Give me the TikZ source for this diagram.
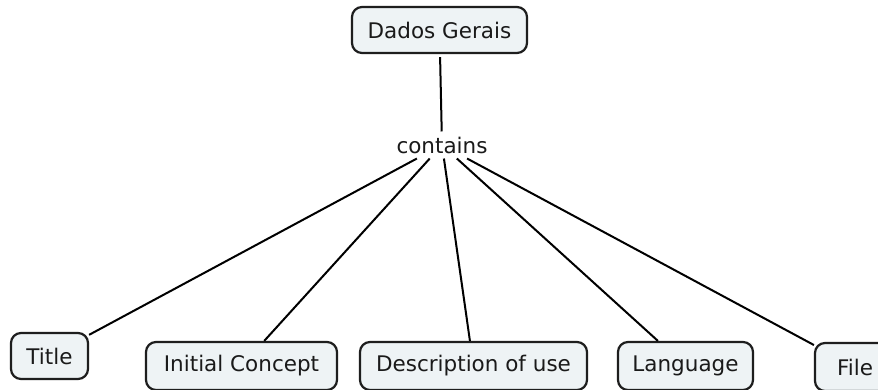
\documentclass[tikz,border=0pt]{standalone}
\usepackage{fontspec}
\setmainfont{DejaVu Sans}
\definecolor{boxfill}{HTML}{EEF3F5}
\definecolor{boxline}{HTML}{1E1E1E}
\definecolor{textcol}{HTML}{1A1A1A}
\tikzset{
  concept/.style={draw=boxline, line width=2.2pt, fill=boxfill, rounded corners=10pt,
    minimum height=46pt, inner sep=0pt, text=textcol, font=\fontsize{21.5}{25}\selectfont},
  lowconcept/.style={concept, minimum height=48pt},
  linkword/.style={inner xsep=2pt, inner ysep=5pt, text=textcol, font=\fontsize{21.5}{25}\selectfont},
  link/.style={line width=2pt, black}
}
\begin{document}
\begin{tikzpicture}[x=1pt,y=-1pt]
\useasboundingbox (0,0) rectangle (878,389);
\fill[white] (0,0) rectangle (878,389);
\node[concept, minimum width=175pt] (dados) at (439.5,30) {Dados Gerais};
\node[linkword] (contains) at (442,145) {contains};
\node[concept, minimum width=77pt] (title) at (49.5,356) {Title};
\node[lowconcept, minimum width=191pt] (initial) at (241.5,366) {Initial Concept};
\node[lowconcept, minimum width=227pt] (desc) at (473.5,366) {Description of use};
\node[lowconcept, minimum width=135pt] (lang) at (685.5,366) {Language};
\node[lowconcept, minimum width=80pt] (file) at (855,367) {File};
\draw[link, shorten <=3pt] (dados) -- (contains);
\draw[link] (contains) -- (title);
\draw[link] (contains) -- (initial);
\draw[link] (contains) -- (desc);
\draw[link] (contains) -- (lang);
\draw[link] (contains) -- (file);
\end{tikzpicture}
\end{document}
